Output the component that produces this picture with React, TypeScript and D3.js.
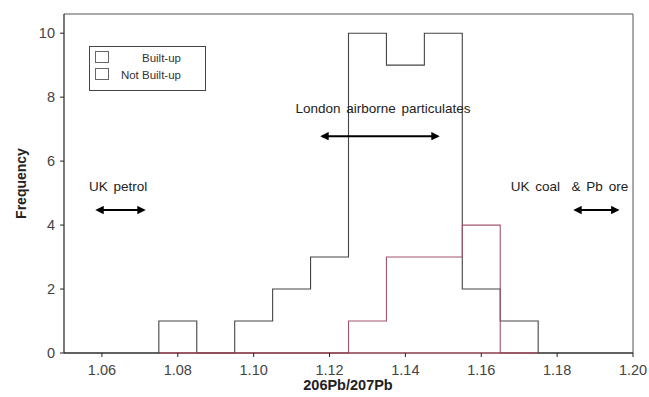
import React from 'react'
import * as d3 from 'd3'

// bins of 206Pb/207Pb, width 0.01, labelled by centre
const BIN_CENTRES = [1.06, 1.07, 1.08, 1.09, 1.10, 1.11, 1.12, 1.13, 1.14, 1.15, 1.16, 1.17, 1.18, 1.19]
const BUILT_UP = [0, 0, 1, 0, 1, 2, 3, 10, 9, 10, 2, 1, 0, 0]
// null = outside the range the series was drawn over
const NOT_BUILT_UP = [null, null, 0, 0, 0, 0, 0, 1, 3, 3, 4, 0, null, null]

const X_TICKS = [1.06, 1.08, 1.10, 1.12, 1.14, 1.16, 1.18, 1.20]
const Y_TICKS = [0, 2, 4, 6, 8, 10]

const BIN_WIDTH = 0.01
const X_DOMAIN = [1.05, 1.20]
const Y_DOMAIN = [0, 10.6]

// source ranges on the x axis, with label placement in data units
const ANNOTATIONS = [
  { label: 'UK petrol', range: [1.0587, 1.0711], labelX: 1.0566, labelY: 5.06, arrowY: 4.47 },
  { label: 'London airborne particulates', range: [1.118, 1.1486], labelX: 1.1110, labelY: 7.5, arrowY: 6.78 },
  { label: 'UK coal  & Pb ore', range: [1.1847, 1.196], labelX: 1.1678, labelY: 5.06, arrowY: 4.47 }
]

const FONT = '"Liberation Sans", Arial, sans-serif'

function stepPoints(values: (number | null)[]) {
  const pts: [number, number][] = []
  values.forEach((v, i) => {
    if (v == null) return
    const c = BIN_CENTRES[i]
    pts.push([c - BIN_WIDTH / 2, v])
    pts.push([c + BIN_WIDTH / 2, v])
  })
  return pts
}

export default function App() {
  const width = 649
  const height = 397
  const left = 64
  const right = 633
  const top = 14
  const bottom = 353

  const x = d3.scaleLinear().domain(X_DOMAIN).range([left, right])
  const y = d3.scaleLinear().domain(Y_DOMAIN).range([bottom, top])

  const line = d3.line<[number, number]>()
    .x(d => x(d[0]))
    .y(d => y(d[1]))

  // built-up outline spans the full axis
  const builtPts: [number, number][] = [[X_DOMAIN[0], 0], ...stepPoints(BUILT_UP), [X_DOMAIN[1], 0]]
  const notBuiltPts = stepPoints(NOT_BUILT_UP)

  return (
    <svg width={width} height={height}
      style={{ position: 'absolute', left: 0, top: 0, background: '#fff', fontFamily: FONT }}>
      <defs>
        <marker id="ah" viewBox="0 0 10 10" refX="8" refY="5" markerWidth="4.2" markerHeight="4.2"
          orient="auto-start-reverse">
          <path d="M0,0 L10,5 L0,10 z" fill="#000" />
        </marker>
      </defs>

      {/* frame */}
      <line x1={left} x2={right} y1={top} y2={top} stroke="#555" strokeWidth={1} />
      <line x1={right} x2={right} y1={top} y2={bottom} stroke="#555" strokeWidth={1} />

      {/* histograms */}
      <path d={line(builtPts) ?? ''} fill="none" stroke="#444" strokeWidth={1.1} />
      <path d={line(notBuiltPts) ?? ''} fill="none" stroke="#a0566a" strokeWidth={1.1} />

      {/* axes */}
      <line x1={left} x2={right} y1={bottom} y2={bottom} stroke="#222" strokeWidth={1.2} />
      <line x1={left} x2={left} y1={top} y2={bottom} stroke="#222" strokeWidth={1.2} />
      <line x1={x(1.075)} x2={x(1.175)} y1={bottom} y2={bottom} stroke="#c04a62" strokeWidth={1.2} />

      {X_TICKS.map(t => (
        <g key={t}>
          <line x1={x(t)} x2={x(t)} y1={bottom} y2={bottom + 4} stroke="#222" />
          <text x={x(t)} y={bottom + 22} textAnchor="middle" fontSize={14.5} fill="#444">
            {t.toFixed(2)}
          </text>
        </g>
      ))}
      {Y_TICKS.map(t => (
        <g key={t}>
          <line x1={left - 4} x2={left} y1={y(t)} y2={y(t)} stroke="#222" />
          <text x={left - 9} y={y(t) + 5} textAnchor="end" fontSize={14.5} fill="#444">
            {t}
          </text>
        </g>
      ))}

      {/* axis titles */}
      <text x={348} y={390} textAnchor="middle" fontSize={14.5} fontWeight="bold" fill="#222">
        206Pb/207Pb
      </text>
      <text transform={`translate(26, ${(top + bottom) / 2}) rotate(-90)`} textAnchor="middle"
        fontSize={14} fontWeight="bold" fill="#222">
        Frequency
      </text>

      {/* legend */}
      <g>
        <rect x={89.5} y={46.5} width={116} height={44} fill="#fff" stroke="#444" />
        <rect x={95.5} y={51.5} width={13} height={11} fill="none" stroke="#666" />
        <rect x={95.5} y={68.5} width={13} height={11} fill="none" stroke="#666" />
        <text x={181} y={62} textAnchor="end" fontSize={11.5} fill="#333">Built-up</text>
        <text x={181} y={79} textAnchor="end" fontSize={11.5} fill="#333">Not Built-up</text>
      </g>

      {/* source annotations */}
      {ANNOTATIONS.map(a => (
        <g key={a.label}>
          <text x={x(a.labelX)} y={y(a.labelY)} fontSize={13.5} wordSpacing={2} fill="#222"
            style={{ whiteSpace: 'pre' }}>
            {a.label}
          </text>
          <line x1={x(a.range[0])} x2={x(a.range[1])} y1={y(a.arrowY)} y2={y(a.arrowY)}
            stroke="#000" strokeWidth={2} markerStart="url(#ah)" markerEnd="url(#ah)" />
        </g>
      ))}
    </svg>
  )
}
